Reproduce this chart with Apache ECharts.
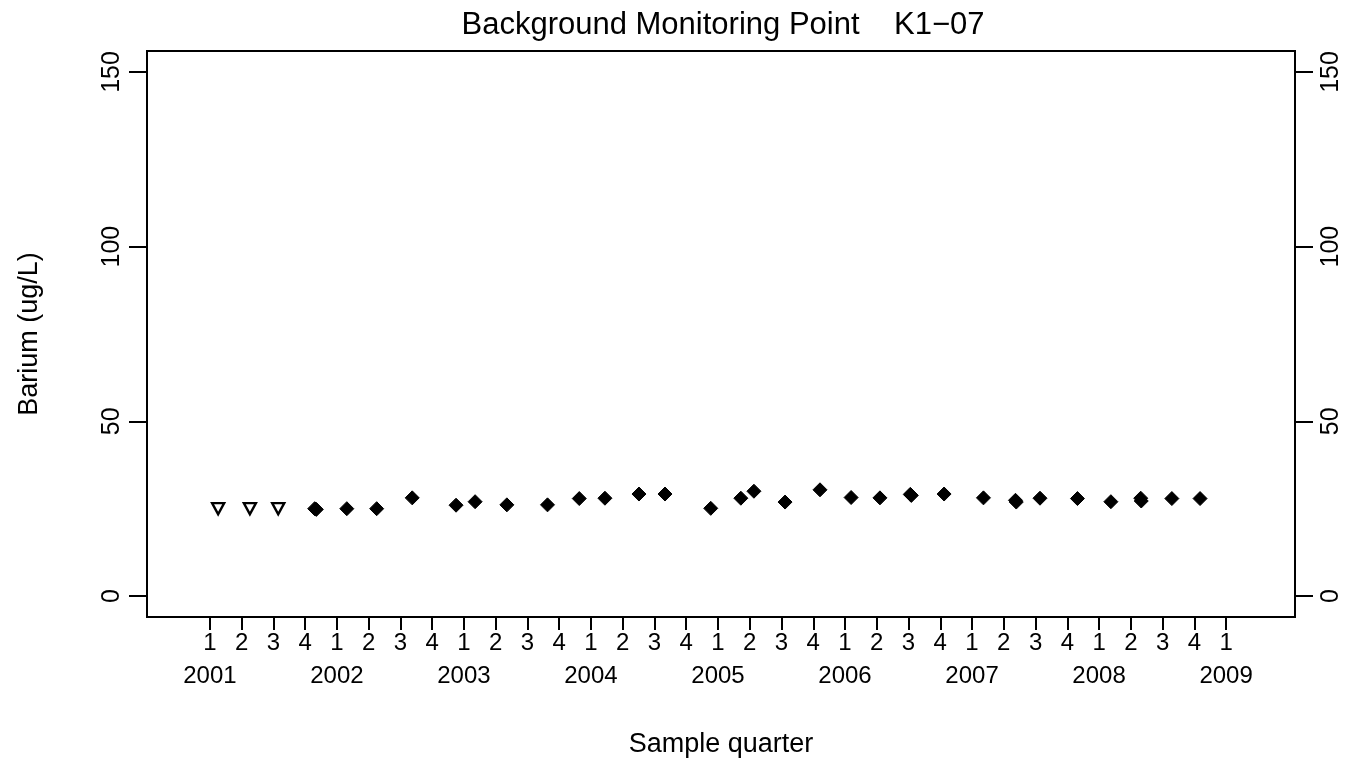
<!DOCTYPE html>
<html>
<head>
<meta charset="utf-8">
<title>Background Monitoring Point K1-07</title>
<script src="https://cdn.jsdelivr.net/npm/echarts@6/dist/echarts.min.js"></script>
<style>
  html, body { margin: 0; padding: 0; background: #fff; }
  #chart { width: 1364px; height: 763px; }
</style>
</head>
<body>
<div id="chart"></div>
<script>
// Sample times as decimal years (quarter sampling, 2001-2008)
const sampleDates = [
  2001.065, 2001.315, 2001.538, 2001.825, 2001.838, 2002.078, 2002.313, 2002.593,
  2002.938, 2003.088, 2003.338, 2003.658, 2003.908, 2004.110, 2004.378, 2004.583,
  2004.943, 2005.180, 2005.283, 2005.528, 2005.803, 2006.048, 2006.275, 2006.514,
  2006.522, 2006.780, 2007.090, 2007.342, 2007.348, 2007.535, 2007.830, 2008.093,
  2008.328, 2008.332, 2008.573, 2008.795
];
// Barium concentrations, ug/L
const bariumValues = [
  25.0, 25.0, 25.0, 25.0, 24.8, 25.0, 25.0, 28.1,
  26.0, 27.0, 26.1, 26.1, 27.9, 28.0, 29.2, 29.2,
  25.1, 28.0, 30.0, 26.9, 30.4, 28.2, 28.1, 29.1,
  28.8, 29.2, 28.1, 27.4, 26.9, 28.0, 27.9, 27.0,
  28.0, 27.2, 27.9, 27.9
];
// true = reported below detection limit (open triangle)
const belowDetection = [
  true, true, true, false, false, false, false, false,
  false, false, false, false, false, false, false, false,
  false, false, false, false, false, false, false, false,
  false, false, false, false, false, false, false, false,
  false, false, false, false
];
// Quarter tick positions, 2001 Q1 through 2009 Q1 (padded by one step each side)
const quarterTicks = [];
for (let n = 2001 * 4 - 1; n <= 2009 * 4 + 1; n++) quarterTicks.push(n / 4);
const yTicks = [0, 50, 100, 150];

const ndPoints = [], detPoints = [];
sampleDates.forEach((d, i) => {
  (belowDetection[i] ? ndPoints : detPoints).push([d, bariumValues[i]]);
});

const FONT = '"Liberation Sans", Arial, Helvetica, sans-serif';
const chart = echarts.init(document.getElementById('chart'), null, { renderer: 'canvas' });

const yAxisCommon = {
  type: 'value',
  min: -6,
  max: 156,
  splitLine: { show: false },
  axisLine: { show: true, onZero: false, lineStyle: { color: '#000', width: 2 } },
  axisTick: { show: true, length: 18, customValues: yTicks, lineStyle: { color: '#000', width: 2 } },
  axisLabel: {
    customValues: yTicks,
    rotate: 90,
    color: '#000',
    fontFamily: FONT,
    fontSize: 25,
    margin: 22
  }
};

chart.setOption({
  animation: false,
  backgroundColor: '#fff',
  title: {
    text: 'Background Monitoring Point    K1\u221207',
    left: 718,
    textAlign: 'center',
    top: 5,
    textStyle: { fontFamily: FONT, fontSize: 31, fontWeight: 'normal', color: '#000' }
  },
  grid: {
    left: 147, right: 69, top: 51, bottom: 146,
    show: true, borderColor: '#000', borderWidth: 2, backgroundColor: 'transparent'
  },
  xAxis: {
    type: 'value',
    min: 2000.505,
    max: 2009.5425,
    name: 'Sample quarter',
    nameLocation: 'middle',
    nameGap: 114,
    nameTextStyle: { fontFamily: FONT, fontSize: 27, color: '#000', verticalAlign: 'top' },
    splitLine: { show: false },
    axisLine: { show: true, onZero: false, lineStyle: { color: '#000', width: 2 } },
    axisTick: { show: true, length: 13, customValues: quarterTicks, lineStyle: { color: '#000', width: 2 } },
    axisLabel: {
      customValues: quarterTicks,
      margin: 10,
      color: '#000',
      fontFamily: FONT,
      fontSize: 24,
      lineHeight: 33,
      formatter: function (v) {
        const n = Math.round(v * 4);
        const q = (n % 4) + 1;
        const yr = Math.floor(n / 4);
        return q === 1 ? q + '\n' + yr : String(q);
      }
    }
  },
  yAxis: [
    Object.assign({}, yAxisCommon, {
      position: 'left',
      name: 'Barium (ug/L)',
      nameLocation: 'middle',
      nameRotate: 90,
      nameGap: 104,
      nameTextStyle: { fontFamily: FONT, fontSize: 27, color: '#000' }
    }),
    Object.assign({}, yAxisCommon, {
      position: 'right',
      axisLabel: Object.assign({}, yAxisCommon.axisLabel, { margin: 24 })
    })
  ],
  series: [
    {
      name: 'Below detection',
      type: 'scatter',
      data: ndPoints,
      symbol: 'triangle',
      symbolRotate: 180,
      symbolSize: [12, 11],
      itemStyle: { color: '#fff', borderColor: '#000', borderWidth: 2.4, opacity: 1 }
    },
    {
      name: 'Detected',
      type: 'scatter',
      data: detPoints,
      symbol: 'diamond',
      symbolSize: [14, 14],
      itemStyle: { color: '#000', borderColor: '#000', borderWidth: 1, opacity: 1 }
    }
  ]
});
</script>
</body>
</html>
